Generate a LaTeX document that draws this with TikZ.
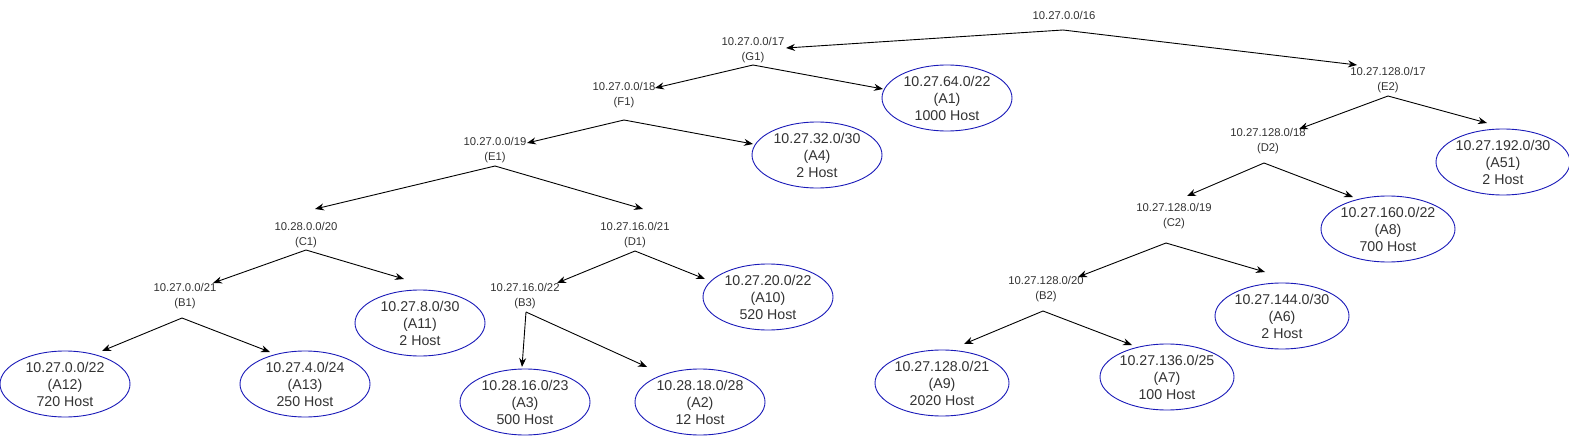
\documentclass[tikz,border=0pt]{standalone}
\usepackage{fontspec}
\setmainfont{Liberation Sans}
\usetikzlibrary{shapes.geometric,arrows.meta}
\definecolor{txt}{HTML}{333333}
\definecolor{ring}{HTML}{1A1AB8}
\tikzset{
  lbl/.style={inner sep=0pt, align=center, text=txt, font=\fontsize{11.3}{15}\selectfont},
  ell/.style={ellipse, draw=ring, line width=0.9pt, minimum width=130pt, minimum height=66pt, inner sep=0pt, align=center, text=txt, font=\fontsize{14.2}{17}\selectfont},
  conn/.style={line width=0.9pt, -{Stealth[length=9pt,width=7pt]}},
}
\begin{document}
\begin{tikzpicture}[x=1pt,y=-1pt]
\useasboundingbox (0,0) rectangle (1569,436);
% label nodes
\node[lbl] (root) at (1064,15) {10.27.0.0/16};
\node[lbl] (g1) at (753,50.5) {10.27.0.0/17\\(G1)};
\node[lbl] (f1) at (624,95) {10.27.0.0/18\\(F1)};
\node[lbl] (e1) at (495,150.5) {10.27.0.0/19\\(E1)};
\node[lbl] (c1) at (306,235.5) {10.28.0.0/20\\(C1)};
\node[lbl] (d1) at (635,235.5) {10.27.16.0/21\\(D1)};
\node[lbl] (b1) at (185,296.5) {10.27.0.0/21\\(B1)};
\node[lbl] (b3) at (525,296.5) {10.27.16.0/22\\(B3)};
\node[lbl] (e2) at (1388,80.5) {10.27.128.0/17\\(E2)};
\node[lbl] (d2) at (1268,141) {10.27.128.0/18\\(D2)};
\node[lbl] (c2) at (1174,216.5) {10.27.128.0/19\\(C2)};
\node[lbl] (b2) at (1046,289.5) {10.27.128.0/20\\(B2)};
% ellipse nodes
\node[ell] (a1) at (947,98) {10.27.64.0/22\\(A1)\\1000 Host};
\node[ell] (a4) at (817,155) {10.27.32.0/30\\(A4)\\2 Host};
\node[ell] (a10) at (768,297) {10.27.20.0/22\\(A10)\\520 Host};
\node[ell] (a11) at (420,323) {10.27.8.0/30\\(A11)\\2 Host};
\node[ell] (a12) at (65,384) {10.27.0.0/22\\(A12)\\720 Host};
\node[ell] (a13) at (305,384) {10.27.4.0/24\\(A13)\\250 Host};
\node[ell] (a3) at (525,402) {10.28.16.0/23\\(A3)\\500 Host};
\node[ell] (a2) at (700,402) {10.28.18.0/28\\(A2)\\12 Host};
\node[ell] (a51) at (1503,162) {10.27.192.0/30\\(A51)\\2 Host};
\node[ell] (a8) at (1388,229) {10.27.160.0/22\\(A8)\\700 Host};
\node[ell] (a6) at (1282,316) {10.27.144.0/30\\(A6)\\2 Host};
\node[ell] (a9) at (942,383) {10.27.128.0/21\\(A9)\\2020 Host};
\node[ell] (a7) at (1167,377) {10.27.136.0/25\\(A7)\\100 Host};
% branch points
\coordinate (rootp) at (1063,30);
\coordinate (g1p) at (753,65);
\coordinate (f1p) at (624,120);
\coordinate (e1p) at (495,166);
\coordinate (c1p) at (306,250);
\coordinate (d1p) at (635,251);
\coordinate (b1p) at (182,318);
\coordinate (b3p) at (526,312);
\coordinate (e2p) at (1388,96);
\coordinate (d2p) at (1264,163);
\coordinate (c2p) at (1166,243);
\coordinate (b2p) at (1043,311);
% arrow ends
\coordinate (g1e) at (786,48);
\coordinate (e2e) at (1357,65);
\coordinate (f1e) at (655,88);
\coordinate (a1e) at (883,89);
\coordinate (e1e) at (527,143);
\coordinate (a4e) at (753,144);
\coordinate (c1e) at (315,209);
\coordinate (d1e) at (643,209);
\coordinate (b3e) at (557,283);
\coordinate (a10e) at (705,279);
\coordinate (b1e) at (213,283);
\coordinate (a11e) at (404,279);
\coordinate (a12e) at (102,351);
\coordinate (a13e) at (270,352);
\coordinate (a3e) at (522,367);
\coordinate (a2e) at (647,367);
\coordinate (d2e) at (1299,129);
\coordinate (a51e) at (1487,123);
\coordinate (c2e) at (1187,196);
\coordinate (a8e) at (1353,197);
\coordinate (b2e) at (1078,277);
\coordinate (a6e) at (1265,272);
\coordinate (a9e) at (964,344);
\coordinate (a7e) at (1132,345);
% connectors
\draw[conn] (rootp) -- (g1e);
\draw[conn] (rootp) -- (e2e);
\draw[conn] (g1p) -- (f1e);
\draw[conn] (g1p) -- (a1e);
\draw[conn] (f1p) -- (e1e);
\draw[conn] (f1p) -- (a4e);
\draw[conn] (e1p) -- (c1e);
\draw[conn] (e1p) -- (d1e);
\draw[conn] (d1p) -- (b3e);
\draw[conn] (d1p) -- (a10e);
\draw[conn] (c1p) -- (b1e);
\draw[conn] (c1p) -- (a11e);
\draw[conn] (b1p) -- (a12e);
\draw[conn] (b1p) -- (a13e);
\draw[conn] (b3p) -- (a3e);
\draw[conn] (b3p) -- (a2e);
\draw[conn] (e2p) -- (d2e);
\draw[conn] (e2p) -- (a51e);
\draw[conn] (d2p) -- (c2e);
\draw[conn] (d2p) -- (a8e);
\draw[conn] (c2p) -- (b2e);
\draw[conn] (c2p) -- (a6e);
\draw[conn] (b2p) -- (a9e);
\draw[conn] (b2p) -- (a7e);
\end{tikzpicture}
\end{document}
